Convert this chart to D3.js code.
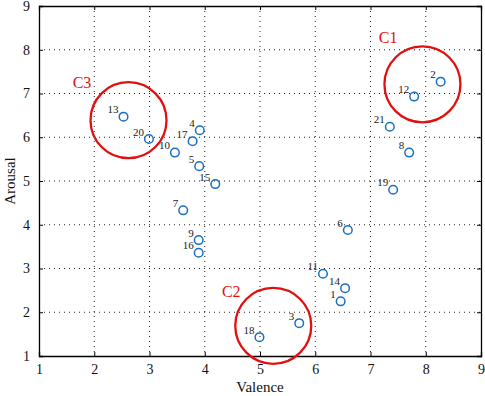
<!DOCTYPE html>
<html><head><meta charset="utf-8">
<script src="https://cdn.jsdelivr.net/npm/d3@7"></script>
<style>
body{margin:0;background:#fff;}
svg text{font-family:"Liberation Serif","Times New Roman","DejaVu Serif",serif !important;}
</style></head>
<body><svg id="c" width="485" height="396"></svg>
<script>
const ids = [1,2,3,4,5,6,7,8,9,10,11,12,13,14,15,16,17,18,19,20,21];
const valence = [6.46,8.27,5.71,3.91,3.90,6.59,3.61,7.70,3.89,3.46,6.14,7.79,2.53,6.54,4.19,3.89,3.78,4.99,7.41,2.99,7.35];
const arousal = [2.25,7.27,1.75,6.16,5.34,3.88,4.33,5.65,3.65,5.65,2.88,6.93,6.47,2.55,4.93,3.36,5.91,1.43,4.80,5.96,6.24];
const clusterNames = ["C1","C2","C3"];
const clusterX = [7.94,5.24,2.62];
const clusterY = [7.21,1.69,6.39];
const clusterLabelX = [7.15,4.31,1.61];
const clusterLabelY = [8.15,2.35,7.12];
const xTicks = [1,2,3,4,5,6,7,8,9];
const yTicks = [1,2,3,4,5,6,7,8,9];

const FONT = "'Liberation Serif','Times New Roman',serif";
const svg = d3.select("#c");
const L=39, R=481, T=6, B=356;
const x = d3.scaleLinear().domain([1,9]).range([L,R]);
const y = d3.scaleLinear().domain([1,9]).range([B,T]);

// grid
const g = svg.append("g");
g.selectAll(".gx").data(xTicks.slice(1,-1)).join("line")
  .attr("x1",d=>x(d)).attr("x2",d=>x(d)).attr("y1",T).attr("y2",B)
  .attr("stroke","#222").attr("stroke-width",1).attr("stroke-dasharray","1,4");
g.selectAll(".gy").data(yTicks.slice(1,-1)).join("line")
  .attr("y1",d=>y(d)).attr("y2",d=>y(d)).attr("x1",L).attr("x2",R)
  .attr("stroke","#222").attr("stroke-width",1).attr("stroke-dasharray","1,4");

// axes
svg.append("g").attr("transform",`translate(0,${B})`)
  .call(d3.axisBottom(x).tickValues(xTicks).tickSize(-4).tickPadding(8).tickFormat(d3.format("d")));
svg.append("g").attr("transform",`translate(${L},0)`)
  .call(d3.axisLeft(y).tickValues(yTicks).tickSize(-4).tickPadding(9).tickFormat(d3.format("d")));
svg.append("g").attr("transform",`translate(0,${T})`)
  .call(d3.axisTop(x).tickValues(xTicks).tickSize(-4).tickFormat(""));
svg.append("g").attr("transform",`translate(${R},0)`)
  .call(d3.axisRight(y).tickValues(yTicks).tickSize(-4).tickFormat(""));
svg.selectAll("g").attr("font-family",FONT);
svg.selectAll(".domain").attr("stroke","#000").attr("stroke-width",1.3);
svg.selectAll(".tick line").attr("stroke","#000");
svg.selectAll(".tick text").attr("font-size",14).attr("fill","#111");

// axis titles
svg.append("text").attr("x",(L+R)/2).attr("y",392).attr("text-anchor","middle")
  .attr("font-family",FONT).attr("font-size",15).attr("fill","#111").text("Valence");
svg.append("text").attr("transform",`translate(15,${(T+B)/2}) rotate(-90)`)
  .attr("font-family",FONT).attr("text-anchor","middle").attr("font-size",15).attr("fill","#111").text("Arousal");

// clusters
const clusters = clusterNames.map((n,i)=>({n,cx:clusterX[i],cy:clusterY[i],lx:clusterLabelX[i],ly:clusterLabelY[i]}));
svg.selectAll(".cl").data(clusters).join("circle")
  .attr("cx",d=>x(d.cx)).attr("cy",d=>y(d.cy)).attr("r",38)
  .attr("fill","none").attr("stroke","#e01010").attr("stroke-width",2.3);
svg.selectAll(".clt").data(clusters).join("text")
  .attr("x",d=>x(d.lx)).attr("y",d=>y(d.ly)).attr("font-family",FONT)
  .attr("font-size",16).attr("fill","#e01010").text(d=>d.n);

// points
const pts = ids.map((id,i)=>({id,v:valence[i],a:arousal[i]}));
svg.selectAll(".pt").data(pts).join("circle")
  .attr("cx",d=>x(d.v)).attr("cy",d=>y(d.a)).attr("r",4.3)
  .attr("fill","none").attr("stroke","#1a6fc2").attr("stroke-width",1.5);
svg.selectAll(".pl").data(pts).join("text")
  .attr("x",d=>x(d.v)-5).attr("y",d=>y(d.a)-3.5).attr("text-anchor","end")
  .attr("font-family",FONT).attr("font-size",11).attr("fill","#222").text(d=>d.id);
</script></body></html>
